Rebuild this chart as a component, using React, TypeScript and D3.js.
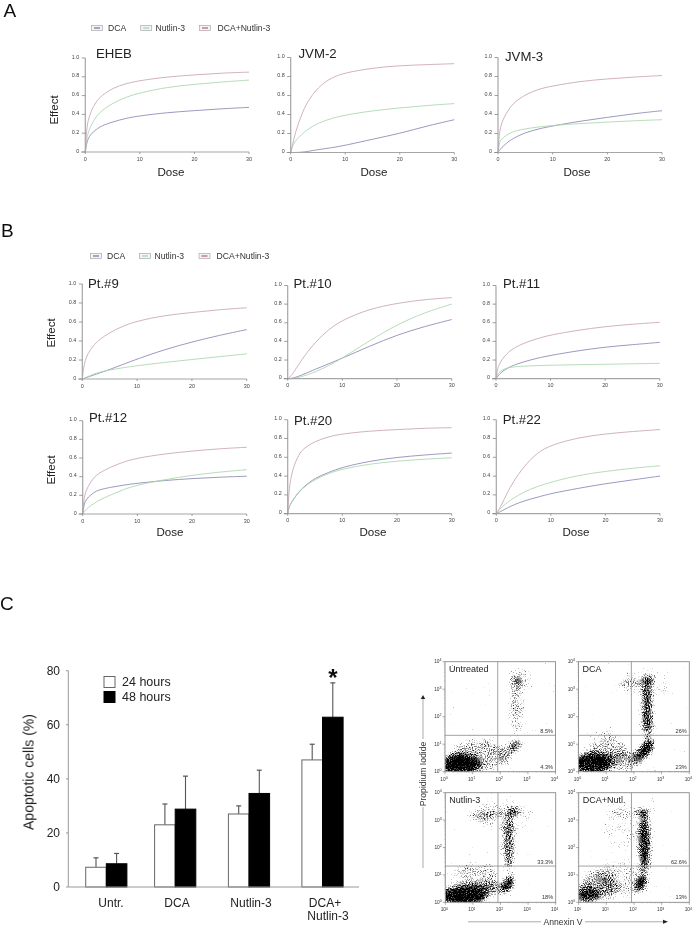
import * as d3 from "d3";

// dose grid the curves were read at
const doses = [0, 0.25, 0.5, 1, 2, 3, 5, 7.5, 10, 15, 20, 25, 30];

const ehebDca = [0, 0.09, 0.14, 0.19, 0.24, 0.28, 0.32, 0.36, 0.385, 0.42, 0.44, 0.46, 0.475];
const ehebNut = [0, 0.13, 0.2, 0.28, 0.38, 0.44, 0.52, 0.585, 0.63, 0.69, 0.72, 0.745, 0.765];
const ehebCombo = [0, 0.25, 0.33, 0.43, 0.54, 0.6, 0.68, 0.73, 0.76, 0.8, 0.82, 0.84, 0.85];

const jvm2Dca = [0, 0, 0, 0, 0.003, 0.01, 0.03, 0.05, 0.075, 0.14, 0.2, 0.28, 0.345];
const jvm2Nut = [0, 0.05, 0.09, 0.13, 0.19, 0.24, 0.31, 0.36, 0.395, 0.44, 0.47, 0.495, 0.515];
const jvm2Combo = [0, 0.06, 0.12, 0.24, 0.4, 0.53, 0.69, 0.79, 0.84, 0.89, 0.915, 0.925, 0.935];

const jvm3Dca = [0, 0.02, 0.04, 0.07, 0.12, 0.155, 0.21, 0.25, 0.28, 0.33, 0.37, 0.41, 0.44];
const jvm3Nut = [0, 0.1, 0.13, 0.16, 0.2, 0.225, 0.25, 0.27, 0.285, 0.305, 0.32, 0.335, 0.345];
const jvm3Combo = [0, 0.2, 0.28, 0.36, 0.46, 0.53, 0.61, 0.67, 0.7, 0.75, 0.775, 0.795, 0.81];

const pt9Dca = [0, 0.005, 0.01, 0.02, 0.04, 0.06, 0.1, 0.155, 0.21, 0.31, 0.39, 0.46, 0.52];
const pt9Nut = [0, 0.005, 0.012, 0.025, 0.05, 0.07, 0.095, 0.12, 0.14, 0.175, 0.205, 0.235, 0.265];
const pt9Combo = [0, 0.12, 0.19, 0.27, 0.35, 0.41, 0.49, 0.56, 0.61, 0.67, 0.7, 0.73, 0.75];

const pt10Dca = [0, 0, 0.002, 0.008, 0.025, 0.05, 0.1, 0.16, 0.22, 0.35, 0.47, 0.56, 0.635];
const pt10Nut = [0, 0, 0, 0.002, 0.015, 0.03, 0.07, 0.14, 0.22, 0.41, 0.58, 0.71, 0.8];
const pt10Combo = [0, 0.01, 0.025, 0.06, 0.15, 0.24, 0.39, 0.53, 0.63, 0.75, 0.81, 0.85, 0.87];

const pt11Dca = [0, 0.02, 0.04, 0.07, 0.11, 0.14, 0.18, 0.22, 0.25, 0.3, 0.34, 0.365, 0.39];
const pt11Nut = [0, 0.04, 0.065, 0.09, 0.115, 0.125, 0.135, 0.14, 0.145, 0.15, 0.155, 0.16, 0.165];
const pt11Combo = [0, 0.1, 0.14, 0.2, 0.27, 0.32, 0.38, 0.43, 0.47, 0.52, 0.56, 0.585, 0.605];

const pt12Dca = [0, 0.1, 0.14, 0.18, 0.23, 0.26, 0.285, 0.31, 0.33, 0.36, 0.38, 0.395, 0.405];
const pt12Nut = [0, 0.02, 0.04, 0.07, 0.11, 0.15, 0.2, 0.265, 0.31, 0.37, 0.415, 0.45, 0.475];
const pt12Combo = [0, 0.17, 0.23, 0.3, 0.39, 0.44, 0.5, 0.56, 0.6, 0.645, 0.675, 0.7, 0.715];

const pt20Dca = [0, 0.07, 0.1, 0.15, 0.23, 0.29, 0.38, 0.44, 0.495, 0.56, 0.6, 0.625, 0.645];
const pt20Nut = [0, 0.07, 0.1, 0.15, 0.225, 0.285, 0.365, 0.43, 0.475, 0.53, 0.56, 0.58, 0.595];
const pt20Combo = [0, 0.25, 0.36, 0.49, 0.63, 0.7, 0.77, 0.82, 0.85, 0.88, 0.895, 0.91, 0.915];

const pt22Dca = [0, 0.008, 0.015, 0.03, 0.06, 0.09, 0.135, 0.175, 0.215, 0.27, 0.32, 0.36, 0.4];
const pt22Nut = [0, 0.02, 0.04, 0.07, 0.12, 0.16, 0.23, 0.29, 0.335, 0.41, 0.45, 0.485, 0.51];
const pt22Combo = [0, 0.02, 0.05, 0.1, 0.22, 0.33, 0.5, 0.65, 0.73, 0.81, 0.85, 0.875, 0.895];

const doseTicks = [0, 10, 20, 30];
const effectTicks = [0, 0.2, 0.4, 0.6, 0.8, 1];
const legendNames = ["DCA", "Nutlin-3", "DCA+Nutlin-3"];
const lineColors = ["#8a86b4", "#a9d6ac", "#c9a3b6"];
const swatchColors = ["#55558f", "#8fce98", "#a8405c"];

// bar panel
const treatments = ["Untr.", "DCA", "Nutlin-3", "DCA+"];
const hours24 = [7.3, 23, 27, 47];
const hours48 = [8.6, 28.8, 34.6, 62.8];
const errTop24 = [10.8, 30.7, 30, 52.8];
const errTop48 = [12.4, 41, 43.2, 75.5];
const percentTicks = [0, 20, 40, 60, 80];

// flow plots: density patches, not single events
// [log10 annexin, log10 PI, spread x, spread y, density, tilt deg]
type Patch = [number, number, number, number, number, number];
const untreatedPatches: Patch[] = [
  [0.55, 0.27, 0.75, 0.38, 1, 0],
  [1.25, 0.6, 1.0, 0.62, 0.42, 0],
  [2.56, 0.97, 0.16, 0.3, 0.85, 35],
  [2.24, 0.62, 0.28, 0.4, 0.35, 30],
  [2.62, 3.32, 0.22, 0.11, 0.95, 0],
  [2.6, 2.36, 0.26, 0.95, 0.42, 0],
  [2.7, 3.4, 0.5, 0.4, 0.22, 0],
];
const dcaPatches: Patch[] = [
  [0.5, 0.3, 0.7, 0.4, 0.95, 0],
  [1.05, 0.85, 0.7, 0.62, 0.38, 0],
  [1.5, 0.4, 0.75, 0.35, 0.42, 0],
  [2.42, 0.8, 0.22, 0.42, 1, 40],
  [2.1, 0.5, 0.28, 0.32, 0.45, 30],
  [2.48, 2.36, 0.2, 0.9, 0.78, 0],
  [2.5, 1.6, 0.25, 0.55, 0.45, 0],
  [2.5, 3.32, 0.24, 0.13, 1, 0],
  [1.85, 3.23, 0.5, 0.11, 0.5, 0],
  [2.4, 3.2, 0.95, 0.55, 0.2, 0],
];
const nutlinPatches: Patch[] = [
  [0.65, 0.25, 0.88, 0.35, 1, 0],
  [1.6, 0.5, 0.8, 0.26, 0.55, 0],
  [1.1, 0.93, 0.85, 0.52, 0.36, 0],
  [2.29, 0.69, 0.19, 0.33, 1, 25],
  [2.3, 2.14, 0.22, 1.0, 0.68, 0],
  [2.45, 3.29, 0.22, 0.15, 1, 0],
  [1.26, 3.13, 0.42, 0.17, 0.48, 0],
  [1.8, 3.23, 0.42, 0.12, 0.48, 0],
  [2.1, 3.2, 1.1, 0.65, 0.2, 0],
];
const comboPatches: Patch[] = [
  [0.3, 0.27, 0.5, 0.3, 0.8, 0],
  [0.75, 0.6, 0.75, 0.55, 0.45, 0],
  [1.5, 0.9, 0.9, 0.68, 0.28, 0],
  [2.26, 0.69, 0.2, 0.35, 1, 25],
  [2.38, 2.14, 0.22, 1.05, 0.9, 0],
  [2.32, 3.29, 0.29, 0.12, 1, 0],
  [1.47, 3.17, 0.15, 0.11, 0.62, 0],
  [2.74, 3.74, 0.16, 0.06, 0.65, 0],
  [1.6, 2.8, 0.75, 0.85, 0.2, 0],
];
const decades = [1, 10, 100, 1000, 10000];
const gateX = 81;
const gateY = 21;

const font = "'Liberation Sans', Arial, sans-serif";
const curveLine = d3
  .line<[number, number]>()
  .curve(d3.curveBasis);

interface PanelProps {
  title: string;
  tx: number;
  ty: number;
  x0: number;
  x1: number;
  y0: number;
  y1: number;
  series: number[][];
  effect?: [number, number];
  dose?: number;
  doseX?: number;
}

const CurvePanel = (p: PanelProps) => {
  const x = d3.scaleLinear().domain([0, 30]).range([p.x0, p.x1]);
  const y = d3.scaleLinear().domain([0, 1]).range([p.y0, p.y1]);
  return (
    <g fontFamily={font}>
      <text x={p.tx} y={p.ty} fontSize={13.2} fill="#222">{p.title}</text>
      {p.series.map((vals, i) => (
        <path
          key={i}
          d={curveLine(vals.map((v, j) => [x(doses[j]), y(v)] as [number, number])) || ""}
          fill="none"
          stroke={lineColors[i]}
          strokeWidth={0.85}
        />
      ))}
      <line x1={p.x0} x2={p.x0} y1={y(1)} y2={y(0)} stroke="#a6a6a6" strokeWidth={1.2} />
      <line x1={p.x0 - 4} x2={x(30)} y1={y(0)} y2={y(0)} stroke="#a6a6a6" strokeWidth={1.2} />
      {effectTicks.map((t) => (
        <g key={t}>
          <line x1={p.x0 - 3.5} x2={p.x0} y1={y(t)} y2={y(t)} stroke="#888" strokeWidth={0.8} />
          <text x={p.x0 - 6} y={y(t) + 0.5} fontSize={5.4} textAnchor="end" fill="#444">{t === 0 ? "0" : t.toFixed(1)}</text>
        </g>
      ))}
      {doseTicks.map((t) => (
        <g key={t}>
          <line x1={x(t)} x2={x(t)} y1={y(0)} y2={y(0) + 2} stroke="#888" strokeWidth={0.8} />
          <text x={x(t)} y={y(0) + 8.6} fontSize={5.4} textAnchor="middle" fill="#444">{t}</text>
        </g>
      ))}
      {p.effect && (
        <text
          transform={`translate(${p.effect[0]},${p.effect[1]}) rotate(-90)`}
          fontSize={11.5}
          textAnchor="middle"
          fill="#222"
        >
          Effect
        </text>
      )}
      {p.dose !== undefined && (
        <text x={p.doseX} y={p.dose} fontSize={11.6} textAnchor="middle" fill="#222">Dose</text>
      )}
    </g>
  );
};

const CurveLegend = ({ y, boxes, labels }: { y: number; boxes: number[]; labels: number[] }) => (
  <g fontFamily={font}>
    {legendNames.map((n, i) => (
      <g key={n}>
        <rect x={boxes[i]} y={y - 2.5} width={11} height={5} fill="#f4f4f6" stroke="#aaa" strokeWidth={0.7} />
        <line x1={boxes[i] + 2.5} x2={boxes[i] + 8.5} y1={y} y2={y} stroke={swatchColors[i]} strokeWidth={1} />
        <text x={labels[i]} y={y + 3} fontSize={8.6} fill="#333">{n}</text>
      </g>
    ))}
  </g>
);

const BarPanel = () => {
  const y = d3.scaleLinear().domain([0, 80]).range([887, 670.7]);
  const cx = d3.scaleOrdinal<string, number>().domain(treatments).range([106.3, 175.2, 249, 322.5]);
  const inner = d3.scaleBand().domain(["24", "48"]).range([-20.6, 20.6]);
  const w = inner.bandwidth();
  const bars = (vals: number[], tops: number[], key: string, fill: string) =>
    treatments.map((t, i) => {
      const left = cx(t) + (inner(key) ?? 0);
      const mid = left + w / 2;
      return (
        <g key={t + key}>
          <line x1={mid} x2={mid} y1={y(vals[i])} y2={y(tops[i])} stroke="#555" strokeWidth={1.1} />
          <line x1={mid - 2.5} x2={mid + 2.5} y1={y(tops[i])} y2={y(tops[i])} stroke="#555" strokeWidth={1.2} />
          <rect x={left} y={y(vals[i])} width={w} height={y(0) - y(vals[i])} fill={fill} stroke={fill === "#000" ? "#000" : "#666"} strokeWidth={1} />
        </g>
      );
    });
  return (
    <g fontFamily={font} fill="#222">
      {bars(hours24, errTop24, "24", "#fff")}
      {bars(hours48, errTop48, "48", "#000")}
      <line x1={68.3} x2={68.3} y1={y(80)} y2={y(0)} stroke="#999" strokeWidth={1} />
      <line x1={68.3} x2={359} y1={y(0)} y2={y(0)} stroke="#999" strokeWidth={1} />
      {percentTicks.map((t) => (
        <g key={t}>
          <line x1={66} x2={68.3} y1={y(t)} y2={y(t)} stroke="#999" strokeWidth={1} />
          <text x={60} y={y(t) + 4} fontSize={12} textAnchor="end">{t}</text>
        </g>
      ))}
      <text transform="translate(33.5,772) rotate(-90)" fontSize={14} textAnchor="middle">Apoptotic cells (%)</text>
      <rect x={104} y={676.5} width={11} height={11} fill="#fff" stroke="#666" strokeWidth={1} />
      <rect x={104} y={691.5} width={11} height={11} fill="#000" stroke="#000" strokeWidth={1} />
      <text x={122} y={686} fontSize={12.5}>24 hours</text>
      <text x={122} y={701} fontSize={12.5}>48 hours</text>
      <text x={333} y={686} fontSize={24} fontWeight="bold" textAnchor="middle" fill="#111">*</text>
      {["Untr.", "DCA", "Nutlin-3", "DCA+"].map((t, i) => (
        <text key={t} x={[111, 177, 251, 325][i]} y={907} fontSize={12} textAnchor="middle">{t}</text>
      ))}
      <text x={328} y={920} fontSize={12} textAnchor="middle">Nutlin-3</text>
    </g>
  );
};

interface FlowProps {
  id: string;
  name: string;
  left: number;
  top: number;
  right: number;
  bottom: number;
  patches: Patch[];
  upper: string;
  lower: string;
}

const FlowPlot = (p: FlowProps) => {
  const x = d3.scaleLog().domain([1, 10000]).range([p.left, p.right]);
  const y = d3.scaleLog().domain([1, 10000]).range([p.bottom, p.top]);
  const pxDecade = (p.right - p.left) / 4;
  const minor = x.ticks().filter((t) => !decades.includes(t));
  return (
    <g fontFamily={font} fill="#333">
      <clipPath id={p.id}>
        <rect x={p.left} y={p.top} width={p.right - p.left} height={p.bottom - p.top} />
      </clipPath>
      <g clipPath={`url(#${p.id})`}>
        <g filter="url(#speckle)">
          {p.patches.map((c, i) => (
            <ellipse
              key={i}
              transform={`translate(${x(10 ** c[0])},${y(10 ** c[1])}) rotate(${c[5]})`}
              rx={c[2] * pxDecade}
              ry={c[3] * pxDecade}
              fill="#000"
              fillOpacity={c[4]}
            />
          ))}
        </g>
      </g>
      <rect x={p.left} y={p.top} width={p.right - p.left} height={p.bottom - p.top} fill="none" stroke="#8a8a8a" strokeWidth={0.9} />
      <line x1={x(gateX)} x2={x(gateX)} y1={p.top} y2={p.bottom} stroke="#8a8a8a" strokeWidth={0.8} />
      <line x1={p.left} x2={p.right} y1={y(gateY)} y2={y(gateY)} stroke="#8a8a8a" strokeWidth={0.8} />
      {decades.map((d, i) => (
        <g key={d}>
          <line x1={x(d)} x2={x(d)} y1={p.bottom} y2={p.bottom + 2.5} stroke="#777" strokeWidth={0.6} />
          <line x1={p.left - 2.5} x2={p.left} y1={y(d)} y2={y(d)} stroke="#777" strokeWidth={0.6} />
          <text x={x(d) - 1} y={p.bottom + 9} fontSize={4.8} textAnchor="middle">
            10<tspan dy={-1.8} fontSize={3.6}>{i}</tspan>
          </text>
          <text x={p.left - 3.5} y={y(d) + 1.5} fontSize={4.8} textAnchor="end">
            10<tspan dy={-1.8} fontSize={3.6}>{i}</tspan>
          </text>
        </g>
      ))}
      {minor.map((t) => (
        <g key={t}>
          <line x1={x(t)} x2={x(t)} y1={p.bottom} y2={p.bottom + 1.2} stroke="#999" strokeWidth={0.4} />
          <line x1={p.left - 1.2} x2={p.left} y1={y(t)} y2={y(t)} stroke="#999" strokeWidth={0.4} />
        </g>
      ))}
      <text x={p.left + 4} y={p.top + 10} fontSize={9} fill="#222">{p.name}</text>
      <text x={p.right - 2.5} y={y(gateY) - 2} fontSize={5.6} textAnchor="end">{p.upper}</text>
      <text x={p.right - 2.5} y={p.bottom - 3} fontSize={5.6} textAnchor="end">{p.lower}</text>
    </g>
  );
};

export default function App() {
  return (
    <svg
      width={696}
      height={926}
      viewBox="0 0 696 926"
      style={{ position: "absolute", left: 0, top: 0, background: "#fff" }}
    >
      <defs>
        {/* dotted look of the flow plots: blurred patches thresholded against noise */}
        <filter id="speckle" x="420" y="640" width="280" height="280" filterUnits="userSpaceOnUse" colorInterpolationFilters="sRGB">
          <feGaussianBlur in="SourceGraphic" stdDeviation="3" result="blob" />
          <feTurbulence type="fractalNoise" baseFrequency="0.95" numOctaves="2" seed="7" />
          <feColorMatrix type="matrix" values="0 0 0 0 0  0 0 0 0 0  0 0 0 0 0  0 0 0 1 0" result="grain" />
          <feComposite in="blob" in2="grain" operator="arithmetic" k1="0" k2="2" k3="2.6" k4="-2.05" result="dots" />
          <feGaussianBlur in="dots" stdDeviation="0.3" />
        </filter>
        <filter id="soft" x="0" y="0" width="696" height="926" filterUnits="userSpaceOnUse">
          <feGaussianBlur stdDeviation="0.3" />
        </filter>
      </defs>
      <g filter="url(#soft)">
        <g fontFamily={font} fontSize={19} fill="#111">
          <text x={3.5} y={17.3}>A</text>
          <text x={1} y={236.5}>B</text>
          <text x={0} y={610}>C</text>
        </g>

        <CurveLegend y={28} boxes={[91.5, 140.7, 199.5]} labels={[108, 155.5, 217.5]} />
        <CurvePanel title="EHEB" tx={96} ty={58} x0={85.3} x1={249} y0={152} y1={58} series={[ehebDca, ehebNut, ehebCombo]} effect={[58, 110]} dose={176} doseX={171} />
        <CurvePanel title="JVM-2" tx={298.5} ty={58} x0={290.7} x1={454.3} y0={152.5} y1={57.5} series={[jvm2Dca, jvm2Nut, jvm2Combo]} dose={176} doseX={374} />
        <CurvePanel title="JVM-3" tx={505} ty={61} x0={498} x1={662} y0={152.5} y1={57.5} series={[jvm3Dca, jvm3Nut, jvm3Combo]} dose={176} doseX={577} />

        <CurveLegend y={256} boxes={[90.5, 139.5, 199]} labels={[107, 154.5, 216.5]} />
        <CurvePanel title="Pt.#9" tx={88} ty={287.5} x0={82.3} x1={246.7} y0={379} y1={284} series={[pt9Dca, pt9Nut, pt9Combo]} effect={[55, 333]} />
        <CurvePanel title="Pt.#10" tx={293.5} ty={287.5} x0={287.7} x1={451.7} y0={378.7} y1={285.5} series={[pt10Dca, pt10Nut, pt10Combo]} />
        <CurvePanel title="Pt.#11" tx={503} ty={287.5} x0={496} x1={659.7} y0={378.7} y1={285.5} series={[pt11Dca, pt11Nut, pt11Combo]} />
        <CurvePanel title="Pt.#12" tx={89} ty={422} x0={82.7} x1={246.7} y0={514} y1={420.7} series={[pt12Dca, pt12Nut, pt12Combo]} effect={[55, 470]} dose={536} doseX={170} />
        <CurvePanel title="Pt.#20" tx={294} ty={425} x0={287.7} x1={451.7} y0={513.7} y1={419.7} series={[pt20Dca, pt20Nut, pt20Combo]} dose={536} doseX={373} />
        <CurvePanel title="Pt.#22" tx={502.7} ty={424} x0={496.3} x1={660} y0={513.7} y1={419.7} series={[pt22Dca, pt22Nut, pt22Combo]} dose={536} doseX={576} />

        <BarPanel />

        <FlowPlot id="f1" name="Untreated" left={445} top={661.7} right={555.5} bottom={771.7} patches={untreatedPatches} upper="8.5%" lower="4.3%" />
        <FlowPlot id="f2" name="DCA" left={578.5} top={661.7} right={689.3} bottom={771.7} patches={dcaPatches} upper="26%" lower="23%" />
        <FlowPlot id="f3" name="Nutlin-3" left={445.3} top={792.7} right={555.7} bottom={902.3} patches={nutlinPatches} upper="33.3%" lower="18%" />
        <FlowPlot id="f4" name="DCA+Nutl." left={578.7} top={792.7} right={689.3} bottom={902.3} patches={comboPatches} upper="62.6%" lower="13%" />

        <g fontFamily={font} fill="#333" stroke="none">
          <text transform="translate(425.5,774) rotate(-90)" fontSize={8.6} textAnchor="middle">Propidium Iodide</text>
          <line x1={423} x2={423} y1={868} y2={807} stroke="#888" strokeWidth={0.7} />
          <line x1={423} x2={423} y1={739} y2={698} stroke="#888" strokeWidth={0.7} />
          <path d={d3.line()([[420.8, 699], [425.2, 699], [423, 695]]) + "Z"} fill="#222" />
          <text x={563} y={925} fontSize={8.6} textAnchor="middle">Annexin V</text>
          <line x1={468} x2={541} y1={921.8} y2={921.8} stroke="#888" strokeWidth={0.7} />
          <line x1={585} x2={664} y1={921.8} y2={921.8} stroke="#888" strokeWidth={0.7} />
          <path d={d3.line()([[663, 919.8], [663, 923.8], [668, 921.8]]) + "Z"} fill="#222" />
        </g>
      </g>
    </svg>
  );
}
